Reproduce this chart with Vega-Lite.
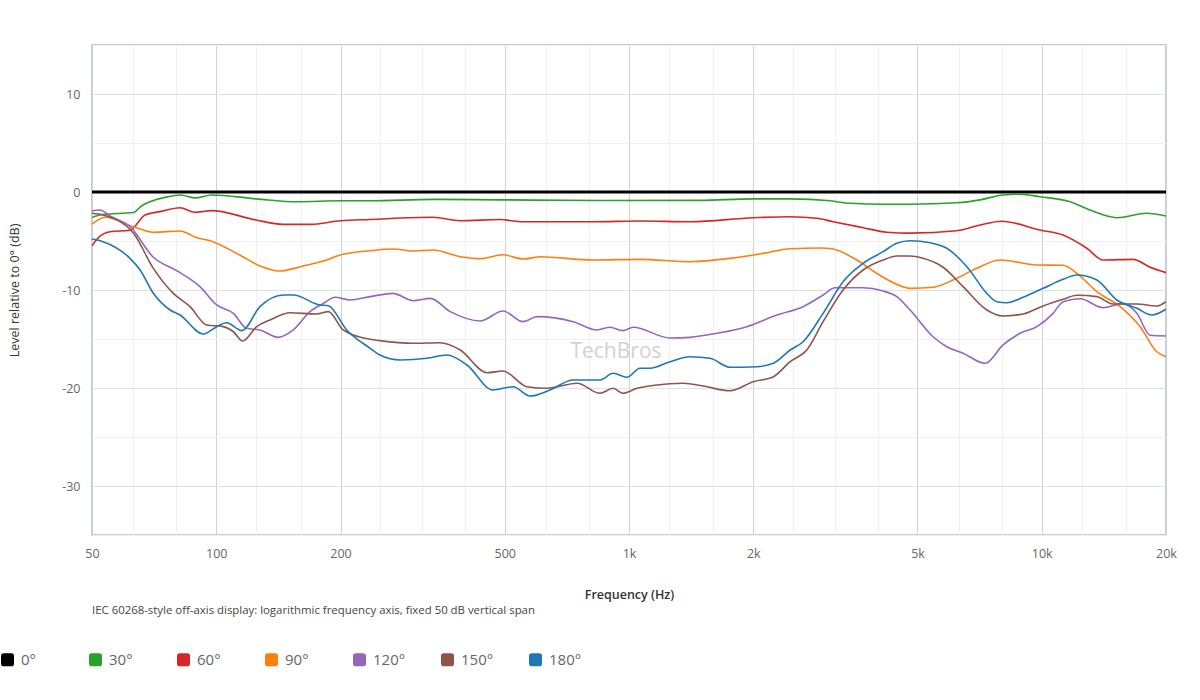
{
  "$schema": "https://vega.github.io/schema/vega-lite/v6.json",
  "autosize": {"type": "none"},
  "width": 1074,
  "height": 490,
  "padding": {"left": 92, "top": 45, "right": 34, "bottom": 165},
  "background": "white",
  "title": {
    "text": "IEC 60268-style off-axis display: logarithmic frequency axis, fixed 50 dB vertical span",
    "orient": "bottom",
    "anchor": "start",
    "frame": "group",
    "offset": -63,
    "fontSize": 11.4,
    "fontWeight": "normal",
    "color": "#444",
    "font": "Open Sans"
  },
  "datasets": {
    "curves": [
      {"s": "0°", "f": 50, "db": 0}, {"s": "0°", "f": 20000, "db": 0},

      {"s": "30°", "f": 50, "db": -2.6}, {"s": "30°", "f": 53, "db": -2.3}, {"s": "30°", "f": 63, "db": -2.1},
      {"s": "30°", "f": 66, "db": -1.4}, {"s": "30°", "f": 69, "db": -1.0}, {"s": "30°", "f": 75, "db": -0.56},
      {"s": "30°", "f": 82, "db": -0.3}, {"s": "30°", "f": 89, "db": -0.6}, {"s": "30°", "f": 97.5, "db": -0.3},
      {"s": "30°", "f": 125, "db": -0.7}, {"s": "30°", "f": 157, "db": -1.0}, {"s": "30°", "f": 200, "db": -0.9},
      {"s": "30°", "f": 236, "db": -0.9}, {"s": "30°", "f": 335, "db": -0.75}, {"s": "30°", "f": 487, "db": -0.8},
      {"s": "30°", "f": 851, "db": -0.87}, {"s": "30°", "f": 1487, "db": -0.85}, {"s": "30°", "f": 2000, "db": -0.7},
      {"s": "30°", "f": 2457, "db": -0.7}, {"s": "30°", "f": 3070, "db": -0.9}, {"s": "30°", "f": 3433, "db": -1.15},
      {"s": "30°", "f": 4126, "db": -1.25}, {"s": "30°", "f": 4798, "db": -1.25}, {"s": "30°", "f": 6226, "db": -1.1},
      {"s": "30°", "f": 7091, "db": -0.8}, {"s": "30°", "f": 8059, "db": -0.3}, {"s": "30°", "f": 8864, "db": -0.23},
      {"s": "30°", "f": 9911, "db": -0.48}, {"s": "30°", "f": 11714, "db": -1.0}, {"s": "30°", "f": 13095, "db": -1.84},
      {"s": "30°", "f": 15200, "db": -2.62}, {"s": "30°", "f": 17974, "db": -2.17}, {"s": "30°", "f": 20000, "db": -2.45},

      {"s": "60°", "f": 50, "db": -5.5}, {"s": "60°", "f": 51.7, "db": -4.7}, {"s": "60°", "f": 55.3, "db": -4.05},
      {"s": "60°", "f": 61.8, "db": -3.9}, {"s": "60°", "f": 67.2, "db": -2.35}, {"s": "60°", "f": 73, "db": -2.0},
      {"s": "60°", "f": 81.7, "db": -1.6}, {"s": "60°", "f": 88.8, "db": -2.07}, {"s": "60°", "f": 97.5, "db": -1.9},
      {"s": "60°", "f": 125, "db": -2.86}, {"s": "60°", "f": 145, "db": -3.3}, {"s": "60°", "f": 169, "db": -3.3},
      {"s": "60°", "f": 200, "db": -2.93}, {"s": "60°", "f": 236, "db": -2.8}, {"s": "60°", "f": 335, "db": -2.58},
      {"s": "60°", "f": 390, "db": -2.93}, {"s": "60°", "f": 487, "db": -2.8}, {"s": "60°", "f": 545, "db": -3.03},
      {"s": "60°", "f": 818, "db": -3.03}, {"s": "60°", "f": 1063, "db": -2.96}, {"s": "60°", "f": 1406, "db": -3.03},
      {"s": "60°", "f": 2000, "db": -2.62}, {"s": "60°", "f": 2457, "db": -2.52}, {"s": "60°", "f": 2851, "db": -2.68},
      {"s": "60°", "f": 3122, "db": -3.03}, {"s": "60°", "f": 3691, "db": -3.64}, {"s": "60°", "f": 4213, "db": -4.11},
      {"s": "60°", "f": 4798, "db": -4.2}, {"s": "60°", "f": 6226, "db": -3.95}, {"s": "60°", "f": 7091, "db": -3.37},
      {"s": "60°", "f": 8000, "db": -2.99}, {"s": "60°", "f": 9911, "db": -3.88}, {"s": "60°", "f": 11265, "db": -4.39},
      {"s": "60°", "f": 12859, "db": -5.74}, {"s": "60°", "f": 14082, "db": -6.94}, {"s": "60°", "f": 16653, "db": -6.87},
      {"s": "60°", "f": 18310, "db": -7.68}, {"s": "60°", "f": 20000, "db": -8.23},

      {"s": "90°", "f": 50, "db": -3.27}, {"s": "90°", "f": 53.8, "db": -2.58}, {"s": "90°", "f": 63, "db": -3.54},
      {"s": "90°", "f": 70.4, "db": -4.11}, {"s": "90°", "f": 81.7, "db": -3.98}, {"s": "90°", "f": 89.7, "db": -4.66},
      {"s": "90°", "f": 96.6, "db": -4.97}, {"s": "90°", "f": 114, "db": -6.43}, {"s": "90°", "f": 127.6, "db": -7.55},
      {"s": "90°", "f": 142.7, "db": -8.06}, {"s": "90°", "f": 162.5, "db": -7.55}, {"s": "90°", "f": 181.8, "db": -7.04},
      {"s": "90°", "f": 199.5, "db": -6.43}, {"s": "90°", "f": 236, "db": -5.99}, {"s": "90°", "f": 268, "db": -5.82},
      {"s": "90°", "f": 300, "db": -6.02}, {"s": "90°", "f": 335, "db": -5.92}, {"s": "90°", "f": 390, "db": -6.6},
      {"s": "90°", "f": 436, "db": -6.8}, {"s": "90°", "f": 495, "db": -6.4}, {"s": "90°", "f": 554, "db": -6.84},
      {"s": "90°", "f": 609, "db": -6.6}, {"s": "90°", "f": 818, "db": -6.94}, {"s": "90°", "f": 1063, "db": -6.87},
      {"s": "90°", "f": 1406, "db": -7.11}, {"s": "90°", "f": 1758, "db": -6.77}, {"s": "90°", "f": 2113, "db": -6.26},
      {"s": "90°", "f": 2457, "db": -5.79}, {"s": "90°", "f": 2904, "db": -5.71}, {"s": "90°", "f": 3122, "db": -5.82},
      {"s": "90°", "f": 3564, "db": -6.94}, {"s": "90°", "f": 3984, "db": -8.3}, {"s": "90°", "f": 4454, "db": -9.42},
      {"s": "90°", "f": 4798, "db": -9.83}, {"s": "90°", "f": 5454, "db": -9.72}, {"s": "90°", "f": 6100, "db": -8.98},
      {"s": "90°", "f": 6961, "db": -7.79}, {"s": "90°", "f": 7926, "db": -6.94}, {"s": "90°", "f": 9731, "db": -7.45},
      {"s": "90°", "f": 11265, "db": -7.48}, {"s": "90°", "f": 12162, "db": -8.3}, {"s": "90°", "f": 13597, "db": -10.17},
      {"s": "90°", "f": 15484, "db": -11.7}, {"s": "90°", "f": 17314, "db": -13.74}, {"s": "90°", "f": 18997, "db": -16.3},
      {"s": "90°", "f": 20000, "db": -16.8},

      {"s": "120°", "f": 50, "db": -1.91}, {"s": "120°", "f": 52.3, "db": -1.84}, {"s": "120°", "f": 55.3, "db": -2.45},
      {"s": "120°", "f": 61.8, "db": -3.54}, {"s": "120°", "f": 70.4, "db": -6.66}, {"s": "120°", "f": 80.2, "db": -8.03},
      {"s": "120°", "f": 91.3, "db": -9.66}, {"s": "120°", "f": 100.3, "db": -11.53}, {"s": "120°", "f": 110, "db": -12.38},
      {"s": "120°", "f": 118.5, "db": -13.91}, {"s": "120°", "f": 127.6, "db": -14.08}, {"s": "120°", "f": 141.4, "db": -14.83},
      {"s": "120°", "f": 153.7, "db": -14.08}, {"s": "120°", "f": 168.7, "db": -12.21}, {"s": "120°", "f": 181.8, "db": -11.36},
      {"s": "120°", "f": 194, "db": -10.74}, {"s": "120°", "f": 211, "db": -11.02}, {"s": "120°", "f": 236, "db": -10.68},
      {"s": "120°", "f": 268, "db": -10.34}, {"s": "120°", "f": 300, "db": -11.09}, {"s": "120°", "f": 330, "db": -10.85},
      {"s": "120°", "f": 369, "db": -12.21}, {"s": "120°", "f": 436, "db": -13.16}, {"s": "120°", "f": 495, "db": -12.14},
      {"s": "120°", "f": 554, "db": -13.23}, {"s": "120°", "f": 599, "db": -12.72}, {"s": "120°", "f": 732, "db": -13.23},
      {"s": "120°", "f": 837, "db": -14.08}, {"s": "120°", "f": 900, "db": -13.8}, {"s": "120°", "f": 967, "db": -14.15},
      {"s": "120°", "f": 1023, "db": -13.8}, {"s": "120°", "f": 1258, "db": -14.9}, {"s": "120°", "f": 1406, "db": -14.83},
      {"s": "120°", "f": 1632, "db": -14.42}, {"s": "120°", "f": 1930, "db": -13.74}, {"s": "120°", "f": 2281, "db": -12.55},
      {"s": "120°", "f": 2641, "db": -11.7}, {"s": "120°", "f": 2953, "db": -10.51}, {"s": "120°", "f": 3157, "db": -9.77},
      {"s": "120°", "f": 3691, "db": -9.77}, {"s": "120°", "f": 4126, "db": -10.1}, {"s": "120°", "f": 4454, "db": -10.68},
      {"s": "120°", "f": 4798, "db": -12.04}, {"s": "120°", "f": 5454, "db": -14.77}, {"s": "120°", "f": 5888, "db": -15.79},
      {"s": "120°", "f": 6449, "db": -16.46}, {"s": "120°", "f": 7290, "db": -17.48}, {"s": "120°", "f": 8059, "db": -15.61},
      {"s": "120°", "f": 8864, "db": -14.42}, {"s": "120°", "f": 9731, "db": -13.74}, {"s": "120°", "f": 10653, "db": -12.38},
      {"s": "120°", "f": 11265, "db": -11.19}, {"s": "120°", "f": 12386, "db": -10.89}, {"s": "120°", "f": 14082, "db": -11.81},
      {"s": "120°", "f": 15748, "db": -11.36}, {"s": "120°", "f": 17000, "db": -12.38}, {"s": "120°", "f": 18310, "db": -14.62},
      {"s": "120°", "f": 20000, "db": -14.69},

      {"s": "150°", "f": 50, "db": -2.17}, {"s": "150°", "f": 53.2, "db": -2.35}, {"s": "150°", "f": 63, "db": -4.21},
      {"s": "150°", "f": 70.4, "db": -7.79}, {"s": "150°", "f": 78.7, "db": -10.34}, {"s": "150°", "f": 86.4, "db": -11.7},
      {"s": "150°", "f": 94.8, "db": -13.57}, {"s": "150°", "f": 104, "db": -13.74}, {"s": "150°", "f": 110, "db": -14.26},
      {"s": "150°", "f": 115.9, "db": -15.2}, {"s": "150°", "f": 125.3, "db": -13.74}, {"s": "150°", "f": 135, "db": -13.06},
      {"s": "150°", "f": 150.9, "db": -12.32}, {"s": "150°", "f": 175.2, "db": -12.45}, {"s": "150°", "f": 186.9, "db": -12.21},
      {"s": "150°", "f": 203, "db": -14.08}, {"s": "150°", "f": 215, "db": -14.59}, {"s": "150°", "f": 236, "db": -15.03},
      {"s": "150°", "f": 249, "db": -15.17}, {"s": "150°", "f": 300, "db": -15.44}, {"s": "150°", "f": 348, "db": -15.38},
      {"s": "150°", "f": 390, "db": -16.12}, {"s": "150°", "f": 453, "db": -18.44}, {"s": "150°", "f": 495, "db": -18.27},
      {"s": "150°", "f": 566, "db": -19.87}, {"s": "150°", "f": 633, "db": -20.03}, {"s": "150°", "f": 749, "db": -19.52},
      {"s": "150°", "f": 851, "db": -20.54}, {"s": "150°", "f": 915, "db": -20.03}, {"s": "150°", "f": 967, "db": -20.54},
      {"s": "150°", "f": 1046, "db": -20.03}, {"s": "150°", "f": 1167, "db": -19.69}, {"s": "150°", "f": 1352, "db": -19.52},
      {"s": "150°", "f": 1511, "db": -19.8}, {"s": "150°", "f": 1758, "db": -20.28}, {"s": "150°", "f": 2000, "db": -19.36},
      {"s": "150°", "f": 2238, "db": -18.85}, {"s": "150°", "f": 2457, "db": -17.32}, {"s": "150°", "f": 2696, "db": -16.12},
      {"s": "150°", "f": 2953, "db": -13.23}, {"s": "150°", "f": 3301, "db": -10.0}, {"s": "150°", "f": 3691, "db": -7.96},
      {"s": "150°", "f": 4126, "db": -6.94}, {"s": "150°", "f": 4454, "db": -6.53}, {"s": "150°", "f": 4798, "db": -6.53},
      {"s": "150°", "f": 5158, "db": -6.77}, {"s": "150°", "f": 5766, "db": -7.68}, {"s": "150°", "f": 6449, "db": -9.66},
      {"s": "150°", "f": 7359, "db": -12.04}, {"s": "150°", "f": 8059, "db": -12.65}, {"s": "150°", "f": 9015, "db": -12.45},
      {"s": "150°", "f": 10075, "db": -11.63}, {"s": "150°", "f": 11265, "db": -10.95}, {"s": "150°", "f": 12162, "db": -10.54},
      {"s": "150°", "f": 13597, "db": -10.68}, {"s": "150°", "f": 14891, "db": -11.43}, {"s": "150°", "f": 17000, "db": -11.43},
      {"s": "150°", "f": 18997, "db": -11.63}, {"s": "150°", "f": 20000, "db": -11.19},

      {"s": "180°", "f": 50, "db": -4.8}, {"s": "180°", "f": 53.2, "db": -5.07}, {"s": "180°", "f": 61.8, "db": -6.77},
      {"s": "180°", "f": 65.4, "db": -7.96}, {"s": "180°", "f": 70.4, "db": -10.34}, {"s": "180°", "f": 77.3, "db": -12.04},
      {"s": "180°", "f": 81.7, "db": -12.55}, {"s": "180°", "f": 93, "db": -14.49}, {"s": "180°", "f": 100.3, "db": -13.74},
      {"s": "180°", "f": 106, "db": -13.34}, {"s": "180°", "f": 115.3, "db": -14.15}, {"s": "180°", "f": 127.6, "db": -11.7},
      {"s": "180°", "f": 145.4, "db": -10.51}, {"s": "180°", "f": 153.7, "db": -10.51}, {"s": "180°", "f": 178.4, "db": -11.53},
      {"s": "180°", "f": 186.9, "db": -11.6}, {"s": "180°", "f": 207, "db": -14.08}, {"s": "180°", "f": 236, "db": -15.95},
      {"s": "180°", "f": 249, "db": -16.63}, {"s": "180°", "f": 279, "db": -17.14}, {"s": "180°", "f": 324, "db": -16.97},
      {"s": "180°", "f": 362, "db": -16.63}, {"s": "180°", "f": 405, "db": -17.65}, {"s": "180°", "f": 468, "db": -20.2},
      {"s": "180°", "f": 524, "db": -19.87}, {"s": "180°", "f": 576, "db": -20.82}, {"s": "180°", "f": 644, "db": -20.2},
      {"s": "180°", "f": 732, "db": -19.18}, {"s": "180°", "f": 851, "db": -19.18}, {"s": "180°", "f": 915, "db": -18.5},
      {"s": "180°", "f": 989, "db": -18.91}, {"s": "180°", "f": 1063, "db": -17.99}, {"s": "180°", "f": 1124, "db": -17.99},
      {"s": "180°", "f": 1258, "db": -17.32}, {"s": "180°", "f": 1406, "db": -16.81}, {"s": "180°", "f": 1572, "db": -16.97},
      {"s": "180°", "f": 1758, "db": -17.89}, {"s": "180°", "f": 2040, "db": -17.83}, {"s": "180°", "f": 2238, "db": -17.48},
      {"s": "180°", "f": 2457, "db": -16.12}, {"s": "180°", "f": 2641, "db": -15.28}, {"s": "180°", "f": 2953, "db": -12.38},
      {"s": "180°", "f": 3301, "db": -9.15}, {"s": "180°", "f": 3691, "db": -7.28}, {"s": "180°", "f": 4126, "db": -6.09},
      {"s": "180°", "f": 4454, "db": -5.23}, {"s": "180°", "f": 4798, "db": -4.97}, {"s": "180°", "f": 5363, "db": -5.17},
      {"s": "180°", "f": 5888, "db": -5.74}, {"s": "180°", "f": 6586, "db": -7.62}, {"s": "180°", "f": 7359, "db": -10.34},
      {"s": "180°", "f": 7784, "db": -11.19}, {"s": "180°", "f": 8228, "db": -11.3}, {"s": "180°", "f": 9015, "db": -10.74},
      {"s": "180°", "f": 10075, "db": -9.83}, {"s": "180°", "f": 11265, "db": -8.91}, {"s": "180°", "f": 12162, "db": -8.47},
      {"s": "180°", "f": 13597, "db": -8.98}, {"s": "180°", "f": 15200, "db": -11.02}, {"s": "180°", "f": 17000, "db": -11.87},
      {"s": "180°", "f": 18482, "db": -12.55}, {"s": "180°", "f": 20000, "db": -11.97}
    ],
    "mark": [
      {"f": 930, "db": -16.3, "t": "TechBros"}
    ]
  },
  "layer": [
    {
      "data": {"name": "mark"},
      "mark": {"type": "text", "fontSize": 21, "font": "Open Sans", "color": "#c8c8c8", "opacity": 0.8},
      "encoding": {
        "x": {"field": "f", "type": "quantitative", "scale": {"type": "log", "domain": [50, 20000], "nice": false}},
        "y": {"field": "db", "type": "quantitative"},
        "text": {"field": "t"}
      }
    },
    {
      "data": {"name": "curves"},
      "mark": {"type": "line", "interpolate": "monotone", "clip": true},
      "encoding": {
        "x": {
          "field": "f",
          "type": "quantitative",
          "scale": {"type": "log", "domain": [50, 20000], "nice": false},
          "axis": {
            "title": "Frequency (Hz)",
            "values": [50, 63, 80, 100, 125, 160, 200, 250, 315, 400, 500, 630, 800, 1000, 1250, 1600, 2000, 2500, 3150, 4000, 5000, 6300, 8000, 10000, 12500, 16000, 20000],
            "labelExpr": "indexof([50,100,200,500,1000,2000,5000,10000,20000], datum.value) >= 0 ? (datum.value >= 1000 ? (datum.value / 1000) + 'k' : '' + datum.value) : ''",
            "gridColor": {
              "condition": {"test": "indexof([50,100,200,500,1000,2000,5000,10000,20000], datum.value) >= 0", "value": "#cdd3d9"},
              "value": "#eef1f4"
            },
            "labelFlush": false,
            "labelOverlap": false,
            "labelPadding": 12,
            "titlePadding": 29,
            "titleFontWeight": 600,
            "titleColor": "#333"
          }
        },
        "y": {
          "field": "db",
          "type": "quantitative",
          "scale": {"domain": [-35, 15], "nice": false, "zero": false},
          "axis": {
            "title": "Level relative to 0° (dB)",
            "values": [-35, -30, -25, -20, -15, -10, -5, 0, 5, 10, 15],
            "labelExpr": "datum.value % 10 === 0 ? '' + datum.value : ''",
            "gridColor": {
              "condition": {"test": "datum.value % 10 === 0", "value": "#dde2e7"},
              "value": "#eef1f4"
            },
            "labelPadding": 12,
            "titlePadding": 40,
            "titleFontWeight": "normal",
            "titleColor": "#333"
          }
        },
        "color": {
          "field": "s",
          "type": "nominal",
          "scale": {
            "domain": ["0°", "30°", "60°", "90°", "120°", "150°", "180°"],
            "range": ["#000000", "#2ca02c", "#d62728", "#ff7f0e", "#9467bd", "#8c564b", "#1f77b4"]
          },
          "legend": {
            "title": null,
            "orient": "none",
            "direction": "horizontal",
            "legendX": -92,
            "legendY": 607,
            "gridAlign": "all",
            "columnPadding": 34,
            "symbolType": "M-1,-0.6C-1,-0.85 -0.85,-1 -0.6,-1L0.6,-1C0.85,-1 1,-0.85 1,-0.6L1,0.6C1,0.85 0.85,1 0.6,1L-0.6,1C-0.85,1 -1,0.85 -1,0.6Z",
            "symbolSize": 169,
            "labelFontSize": 15,
            "labelColor": "#666",
            "labelOffset": 6,
            "encode": {
              "symbols": {
                "update": {
                  "fill": {"scale": "color", "field": "value"},
                  "stroke": {"value": "transparent"},
                  "strokeWidth": {"value": 0},
                  "opacity": {"value": 1}
                }
              }
            }
          }
        },
        "order": {"field": "s"},
        "strokeWidth": {
          "condition": {"test": "datum.s === '0°'", "value": 3},
          "value": 1.6
        }
      }
    }
  ],
  "config": {
    "font": "Open Sans",
    "view": {"stroke": "#c5ccd3", "strokeWidth": 2},
    "axis": {
      "domain": false,
      "ticks": false,
      "grid": true,
      "gridWidth": 1,
      "labelColor": "#666",
      "labelFontSize": 12.5,
      "labelFont": "Open Sans",
      "titleFont": "Open Sans",
      "titleFontSize": 12.5
    }
  }
}
